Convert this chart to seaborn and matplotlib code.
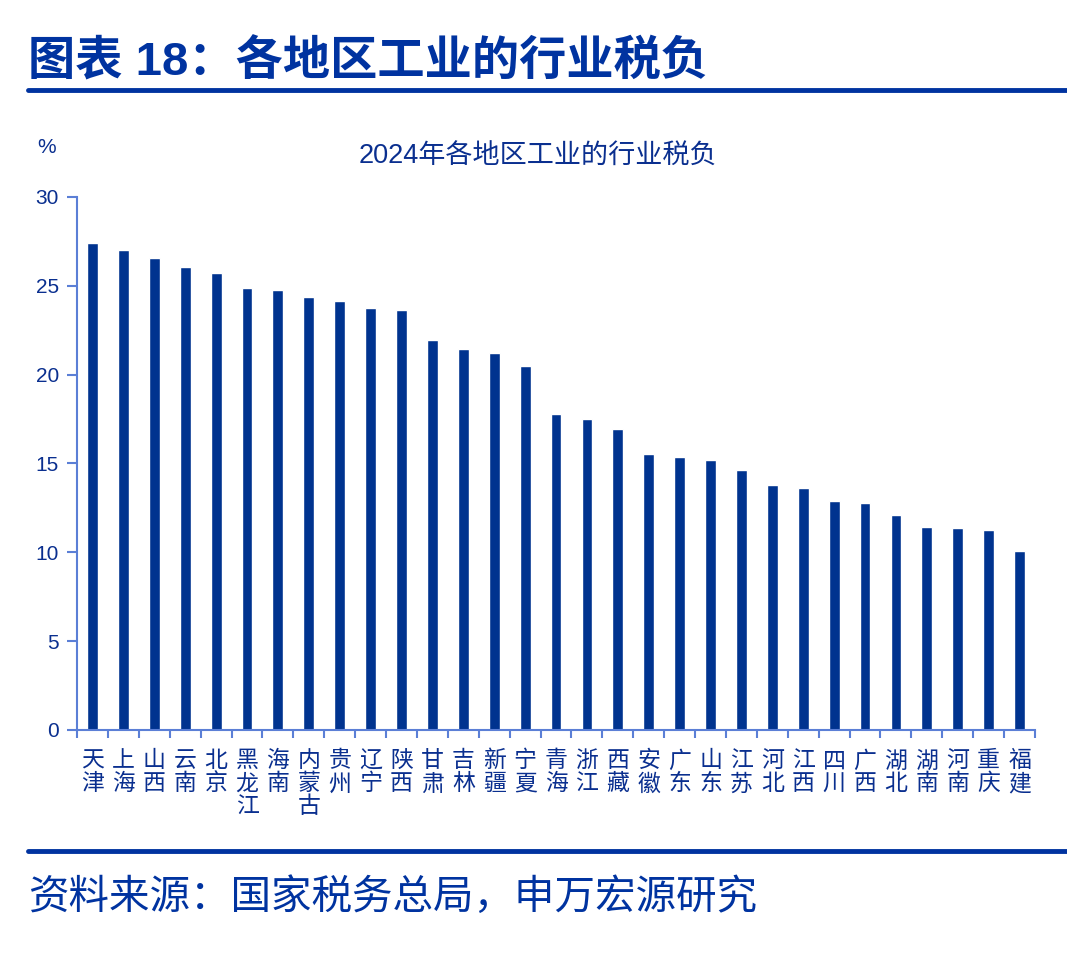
import matplotlib
matplotlib.use("Agg")
import matplotlib.pyplot as plt
import seaborn as sns
import numpy as np

regions = ["天津", "上海", "山西", "云南", "北京", "黑龙江", "海南", "内蒙古", "贵州", "辽宁",
           "陕西", "甘肃", "吉林", "新疆", "宁夏", "青海", "浙江", "西藏", "安徽", "广东",
           "山东", "江苏", "河北", "江西", "四川", "广西", "湖北", "湖南", "河南", "重庆", "福建"]
tax_burden = [27.4, 27.0, 26.55, 26.05, 25.7, 24.9, 24.75, 24.35, 24.15, 23.75,
              23.65, 21.95, 21.45, 21.2, 20.5, 17.8, 17.5, 16.95, 15.55, 15.35,
              15.2, 14.65, 13.8, 13.6, 12.9, 12.75, 12.1, 11.4, 11.35, 11.25, 10.05]
y_ticks = [0, 5, 10, 15, 20, 25, 30]

BAR = "#00338f"
DARK = "#0033a0"
AXIS = "#5b7fd6"
TXT = "#0a2f8f"

sns.set_style("white")
plt.rcParams['font.family'] = ['Liberation Sans', 'Noto Sans CJK SC', 'DejaVu Sans']

fig = plt.figure(figsize=(10.67, 9.68), dpi=100)
ax = fig.add_axes([0.0722, 0.2459, 0.8978, 0.5506])

sns.barplot(x=regions, y=tax_burden, color=BAR, saturation=1, width=0.35, ax=ax)

ax.set_xlim(-0.5, len(regions) - 0.5)
ax.set_ylim(0, 30)
ax.set_yticks(y_ticks)
ax.set_yticklabels([str(t) for t in y_ticks], fontsize=15, color=TXT)

# stacked vertical labels
ax.set_xticks(range(len(regions)))
ax.set_xticklabels(["\n".join(r) for r in regions], fontsize=16.5, color=TXT,
                   linespacing=1.0, family=['Noto Sans CJK SC'])
ax.tick_params(axis='x', which='major', length=0, pad=14)
ax.set_xticks(np.arange(-0.5, len(regions), 1.0), minor=True)
ax.tick_params(axis='x', which='minor', length=6, width=1.5, color=AXIS, direction='out', bottom=True)
ax.tick_params(axis='y', length=7, width=1.5, color=AXIS, direction='out', left=True, pad=6)

for side in ['top', 'right']:
    ax.spines[side].set_visible(False)
for side in ['left', 'bottom']:
    ax.spines[side].set_color(AXIS)
    ax.spines[side].set_linewidth(1.5)
ax.set_xlabel('')
ax.set_ylabel('')

fig.text(0.044, 0.848, "%", fontsize=15, color=TXT, ha='center', va='center')
fig.text(0.504, 0.838, "2024年各地区工业的行业税负", fontsize=19.5, color=TXT, ha='center', va='center')

fig.text(0.026, 0.935, "图表 18：各地区工业的行业税负", fontsize=34, fontweight='bold',
         color=DARK, ha='left', va='center')
fig.add_artist(plt.Line2D([0.026, 1.0], [0.907, 0.907], color=DARK, linewidth=3.5))
fig.add_artist(plt.Line2D([0.026, 1.0], [0.121, 0.121], color=DARK, linewidth=3.5))
fig.text(0.026, 0.073, "资料来源：国家税务总局，申万宏源研究", fontsize=29.2,
         color=DARK, ha='left', va='center')

fig.savefig("out.png", dpi=100)
